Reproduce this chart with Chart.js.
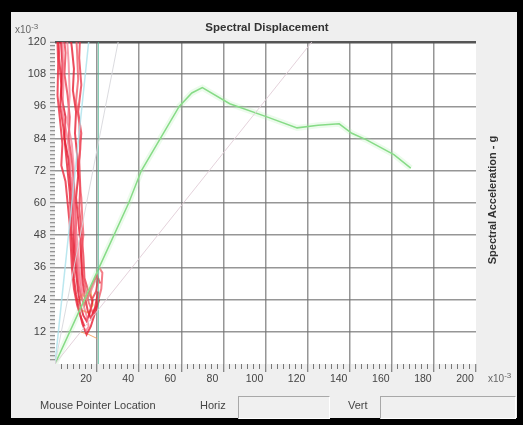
<!DOCTYPE html>
<html>
<head>
<meta charset="utf-8">
<script src="https://cdn.jsdelivr.net/npm/chart.js@4.4.1/dist/chart.umd.min.js"></script>
<style>
  body { margin: 0; width: 523px; height: 425px; background: #000; overflow: hidden; position: relative;
         font-family: "Liberation Sans", Arial, sans-serif; color: #333; }
  #panel { position: absolute; left: 11px; top: 12px; width: 506px; height: 406px; background: #efefef; }
  #c { position: absolute; left: 0; top: 0; }
  .lbl { position: absolute; font-size: 11px; white-space: nowrap; color: #444; }
  .box { position: absolute; height: 21px; background: #f0f0f0; border-top: 1px solid #a8a8a8; border-left: 1px solid #a8a8a8;
         border-right: 1px solid #fff; border-bottom: 1px solid #fff; }
</style>
</head>
<body>
<div id="panel"></div>
<canvas id="c" width="523" height="425"></canvas>
<div class="lbl" style="left:267px;top:21px;transform:translateX(-50%);font-weight:bold;font-size:11.5px;color:#333;">Spectral Displacement</div>
<div class="lbl" style="left:15px;top:22px;font-size:10px;color:#666;">x10<sup style="font-size:8px">-3</sup></div>
<div class="lbl" style="left:488px;top:371px;font-size:10px;color:#666;">x10<sup style="font-size:8px">-3</sup></div>
<div class="lbl" style="left:492px;top:200px;transform:translate(-50%,-50%) rotate(-90deg);font-weight:bold;font-size:11px;color:#333;">Spectral Acceleration - g</div>
<div class="lbl" style="left:40px;top:399px;">Mouse Pointer Location</div>
<div class="lbl" style="left:200px;top:399px;">Horiz</div>
<div class="box" style="left:238px;top:396px;width:90px;"></div>
<div class="lbl" style="left:348px;top:399px;">Vert</div>
<div class="box" style="left:380px;top:396px;width:134px;"></div>
<script>
// capacity curve (Sd x10^-3, Sa g x10^-3)
const capSd = [0, 21, 35, 41, 59, 65, 70, 83, 101, 115, 125, 135, 141, 148, 161, 169];
const capSa = [0, 36, 60, 72, 96, 101, 103, 97, 92, 88, 89, 89.5, 86, 83.5, 78, 73];

// demand spectra traces [Sd, Sa]
const redA = [[1.5,124],[2,114],[3,104],[2.5,96],[4,88],[5,80],[6,72],[7,64],[7.5,56],[8,48],[8.5,40],[9,32],[10,26],[11.5,20],[13,15],[15,11],[17,14],[19,19],[21,24]];
const redB = [[4,124],[5,116],[4.5,108],[6,100],[7,92],[6.5,84],[8,76],[9,68],[9.5,60],[10,52],[9.5,44],[10.5,36],[11,30],[12.5,25],[14,22],[16,26],[18,30],[20,33],[21.5,30]];
const redC = [[7,124],[8,118],[9,110],[8.5,102],[10,94],[9.5,86],[10.5,78],[11,70],[10,62],[11,54],[12,46],[12.5,38],[13,31],[14,26],[15.5,20],[17,17],[19,21],[20.5,27]];
const redD = [[10,124],[10.5,116],[11,106],[10,98],[11.5,90],[12,80],[11,72],[12.5,62],[13,54],[13.5,48],[12.5,42],[13,34],[14.5,28],[16,23],[18,19],[20,22],[22,28],[22.5,34],[21,36]];
const redE = [[2.5,124],[3.5,112],[3,100],[5,92],[4.5,84],[6.5,76],[7.5,66],[8.5,58],[9,50],[9,42],[10,34],[11,27],[12,22],[13.5,18],[15,16],[16.5,19],[18,24]];
const redF = [[5.5,124],[6.5,112],[7,100],[6,90],[8,82],[9,72],[8,64],[9.5,56],[10.5,46],[11.5,38],[12,32],[13,27],[15,24],[17,27],[19,31]];
const redG = [[1,124],[1.5,112],[1.2,100],[2.5,90],[3.5,82],[3,74],[5,68],[6,60],[7,52],[7.5,44],[8,36],[9,28],[10.5,22],[12,18],[14,14]];
const redH = [[12,124],[11.5,114],[12.5,104],[11,94],[12.5,86],[11.5,76],[12,66],[11.5,58],[12.5,50],[13.5,40],[14,32],[15.5,28],[17.5,24],[19.5,27],[20.5,32]];
const redI = [[3.5,124],[4,104],[3.5,94],[5.5,86],[7,78],[7.5,70],[9,62],[8.5,54],[10,44],[11,36],[12,29],[13.5,22],[15,18],[16,14],[14.5,12]];
const orangeG = [[11,23],[13,26],[15,24],[17,27],[18,22],[16,19],[13,20]];
const orangeH = [[12,12],[16,11],[20,9.5]];

// period lines and marker
const cyanLine = [[0,0],[16,120]];
const greyLine = [[0,0],[30,120]];
const pinkLine = [[0,0],[122,120]];
const markLine = [[20.6,0],[20.6,120]];

const xLabels = [20, 40, 60, 80, 100, 120, 140, 160, 180, 200];
const yLabels = [12, 24, 36, 48, 60, 72, 84, 96, 108, 120];

const pts = arr => arr.map(p => ({ x: p[0], y: p[1] }));
const line = (data, color, width) => ({ data: pts(data), borderColor: color, borderWidth: width, showLine: true, pointRadius: 0, fill: false });

const capPts = capSd.map((x, i) => [x, capSa[i]]);

const bgPlugin = {
  id: 'bg',
  beforeDraw(chart) {
    const { ctx, chartArea: a } = chart;
    ctx.save();
    ctx.fillStyle = '#fff';
    ctx.fillRect(a.left, a.top, a.right - a.left, a.bottom - a.top);
    ctx.restore();
  }
};

const minorX = [];
for (let i = 1; i <= 70; i++) { if (i % 7) minorX.push(i * 20 / 7); }
const yTicks = [];
for (let i = 1; i <= 80; i++) yTicks.push(i * 1.5);

new Chart(document.getElementById('c').getContext('2d'), {
  type: 'scatter',
  data: {
    datasets: [
      line(pinkLine, 'rgba(225,205,215,0.9)', 1),
      line(greyLine, 'rgba(215,215,220,0.9)', 1),
      line(cyanLine, 'rgba(170,225,235,0.8)', 1.5),
      line(markLine, 'rgba(80,185,150,0.8)', 1),
      line(capPts, 'rgba(170,235,170,0.22)', 6),
      line(capPts, 'rgb(125,215,125)', 1.5),
      line(redF, 'rgba(245,120,140,0.7)', 2),
      line(redI, 'rgba(245,110,130,0.7)', 2),
      line(redG, 'rgba(235,40,60,0.8)', 2),
      line(redA, 'rgba(230,30,50,0.8)', 2),
      line(redB, 'rgba(235,50,70,0.75)', 2),
      line(redC, 'rgba(230,30,50,0.8)', 2),
      line(redD, 'rgba(240,80,95,0.75)', 2),
      line(redE, 'rgba(225,20,45,0.8)', 2),
      line(redH, 'rgba(235,45,65,0.75)', 2),
      line(orangeG, 'rgba(240,170,70,0.8)', 1.5),
      line(orangeH, 'rgba(240,150,80,0.8)', 1)
    ]
  },
  options: {
    responsive: false,
    animation: false,
    devicePixelRatio: 1,
    layout: { padding: { top: 42, right: 47, left: 0, bottom: 0 } },
    plugins: { legend: { display: false }, tooltip: { enabled: false } },
    scales: {
      xMinor: {
        type: 'linear', position: 'bottom', weight: 0, min: 0, max: 200,
        afterBuildTicks: s => { s.ticks = minorX.map(v => ({ value: v })); },
        afterFit: s => { s.height = 0; },
        border: { display: false },
        grid: { drawOnChartArea: false, tickLength: 5, tickColor: '#777', tickWidth: 1 },
        ticks: { display: false, autoSkip: false }
      },
      x: {
        type: 'linear', position: 'bottom', weight: 1, min: 0, max: 200,
        afterBuildTicks: s => { s.ticks = xLabels.map(v => ({ value: v })); },
        afterFit: s => { s.height = 61; },
        border: { display: false },
        grid: {
          color: c => (c.tick && c.tick.value < 200) ? 'rgba(115,115,115,0.75)' : 'rgba(0,0,0,0)',
          lineWidth: 1.5, tickLength: 8, tickColor: '#666', tickWidth: 1
        },
        ticks: { autoSkip: false, maxRotation: 0, labelOffset: -11, padding: 1, color: '#444',
                 font: { family: 'Liberation Sans', size: 10.5 }, callback: v => v }
      },
      y: {
        type: 'linear', position: 'left', min: 0, max: 120,
        afterBuildTicks: s => { s.ticks = yTicks.map(v => ({ value: v })); },
        afterFit: s => { s.width = 55; },
        border: { display: false },
        grid: {
          color: c => {
            const v = c.tick ? Math.round(c.tick.value * 10) / 10 : 0;
            if (v === 120) return '#555';
            return yLabels.includes(v) ? 'rgba(115,115,115,0.75)' : 'rgba(0,0,0,0)';
          },
          lineWidth: c => (c.tick && Math.round(c.tick.value) === 120) ? 2.5 : 1.5,
          tickLength: 5, tickColor: '#777', tickWidth: 1
        },
        ticks: {
          autoSkip: false, padding: 4, color: '#444', font: { family: 'Liberation Sans', size: 11 },
          callback: v => { const r = Math.round(v * 10) / 10; return yLabels.includes(r) ? r : ''; }
        }
      }
    }
  },
  plugins: [bgPlugin]
});
</script>
</body>
</html>
